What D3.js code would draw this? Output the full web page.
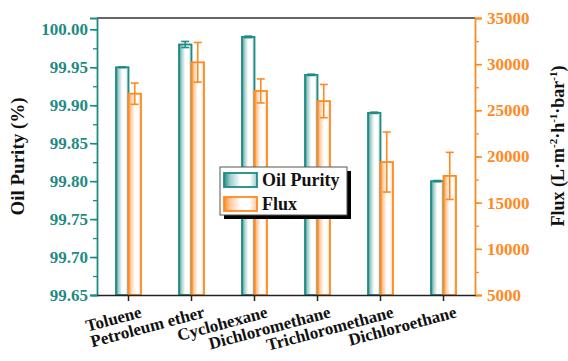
<!DOCTYPE html>
<html>
<head>
<meta charset="utf-8">
<script src="https://cdn.jsdelivr.net/npm/d3@7"></script>
<style>
  html, body { margin: 0; padding: 0; background: #fff; }
  svg { display: block; font-family: "Liberation Serif", "Times New Roman", serif; font-weight: bold; }
</style>
</head>
<body>
<svg id="chart" width="568" height="361"></svg>
<script>
// Solvents tested and the measured results
const solvents = ["Toluene", "Petroleum ether", "Cyclohexane", "Dichloromethane", "Trichloromethane", "Dichloroethane"];
const oilPurity = [99.95, 99.98, 99.99, 99.94, 99.89, 99.80];
const oilPurityErr = [0.0005, 0.004, 0.001, 0.0008, 0.0008, 0.0008];
const flux = [26800, 30200, 27100, 26000, 19400, 17900];
const fluxErr = [1150, 2150, 1300, 1800, 3250, 2550];
const purityTicks = [99.65, 99.70, 99.75, 99.80, 99.85, 99.90, 99.95, 100.00];
const fluxTicks = [5000, 10000, 15000, 20000, 25000, 30000, 35000];

const teal = "#1f8b84";
const orange = "#ff8a1f";

const svg = d3.select("#chart");
const margin = { left: 97, right: 93, top: 18, bottom: 66 };
const W = 568, H = 361;
const x0 = margin.left, x1 = W - margin.right, yTop = margin.top, yBot = H - margin.bottom;

const x = d3.scaleBand().domain(solvents).range([x0, x1]);
const yL = d3.scaleLinear().domain([99.65, 100.0149]).range([yBot, yTop]);
const yR = d3.scaleLinear().domain([5000, 35000]).range([yBot, yTop]);

// Horizontal shading used on bars and legend swatches
const defs = svg.append("defs");
function shade(id, c, light) {
  const g = defs.append("linearGradient").attr("id", id)
    .attr("x1", "0%").attr("x2", "100%").attr("y1", "0%").attr("y2", "0%");
  [[0, c], [0.18, light], [0.5, "#ffffff"], [0.78, "#ffffff"], [1, light]].forEach(([o, col]) =>
    g.append("stop").attr("offset", o).attr("stop-color", col));
}
shade("gTeal", teal, "#9ccbc7");
shade("gOrange", orange, "#ffc79a");

const barW = 12.5;

// Oil purity bars
svg.append("g").selectAll("rect").data(solvents).join("rect")
  .attr("x", (d) => x(d) + x.bandwidth() / 2 - barW)
  .attr("y", (d, i) => yL(oilPurity[i]))
  .attr("width", barW)
  .attr("height", (d, i) => yBot - yL(oilPurity[i]))
  .attr("fill", "url(#gTeal)").attr("stroke", teal).attr("stroke-width", 1.8);

// Flux bars
svg.append("g").selectAll("rect").data(solvents).join("rect")
  .attr("x", (d) => x(d) + x.bandwidth() / 2)
  .attr("y", (d, i) => yR(flux[i]))
  .attr("width", barW)
  .attr("height", (d, i) => yBot - yR(flux[i]))
  .attr("fill", "url(#gOrange)").attr("stroke", orange).attr("stroke-width", 1.8);

// Error bars
function errorBars(vals, errs, scale, cx, color) {
  const g = svg.append("g").attr("stroke", color).attr("stroke-width", 1.6);
  solvents.forEach((d, i) => {
    const cxv = cx(d);
    const hi = scale(vals[i] + errs[i]), lo = scale(vals[i] - errs[i]);
    g.append("line").attr("x1", cxv).attr("x2", cxv).attr("y1", hi).attr("y2", lo);
    g.append("line").attr("x1", cxv - 4).attr("x2", cxv + 4).attr("y1", hi).attr("y2", hi);
    g.append("line").attr("x1", cxv - 4).attr("x2", cxv + 4).attr("y1", lo).attr("y2", lo);
  });
}
errorBars(oilPurity, oilPurityErr, yL, (d) => x(d) + x.bandwidth() / 2 - barW / 2, teal);
errorBars(flux, fluxErr, yR, (d) => x(d) + x.bandwidth() / 2 + barW / 2, orange);

// Top frame line
svg.append("line").attr("x1", x0).attr("x2", x1).attr("y1", yTop).attr("y2", yTop)
  .attr("stroke", "#333").attr("stroke-width", 1.6);

// Left axis (oil purity)
const minorL = d3.range(0, 15).map((i) => 99.65 + i * 0.025);
const gl = svg.append("g").attr("transform", `translate(${x0},0)`);
gl.call(d3.axisLeft(yL).tickValues(minorL).tickSize(4).tickFormat(""));
gl.call((g) => g.selectAll(".tick line").attr("stroke", teal).attr("stroke-width", 1.3));
const glM = svg.append("g").attr("transform", `translate(${x0},0)`)
  .call(d3.axisLeft(yL).tickValues(purityTicks).tickSize(7).tickPadding(2).tickFormat(d3.format(".2f")));
glM.select(".domain").attr("stroke", teal).attr("stroke-width", 1.8);
glM.selectAll(".tick line").attr("stroke", teal).attr("stroke-width", 1.6);
glM.selectAll(".tick text").attr("fill", teal).attr("font-size", 17).attr("font-family", "Liberation Serif").attr("font-weight", "bold");
gl.select(".domain").remove();

// Right axis (flux)
const minorR = d3.range(0, 13).map((i) => 5000 + i * 2500);
const gr = svg.append("g").attr("transform", `translate(${x1},0)`);
gr.call(d3.axisRight(yR).tickValues(minorR).tickSize(4).tickFormat(""));
gr.selectAll(".tick line").attr("stroke", orange).attr("stroke-width", 1.3);
gr.select(".domain").remove();
const grM = svg.append("g").attr("transform", `translate(${x1},0)`)
  .call(d3.axisRight(yR).tickValues(fluxTicks).tickSize(7).tickPadding(5).tickFormat(d3.format("d")));
grM.select(".domain").attr("stroke", orange).attr("stroke-width", 1.8);
grM.selectAll(".tick line").attr("stroke", orange).attr("stroke-width", 1.6);
grM.selectAll(".tick text").attr("fill", orange).attr("font-size", 17).attr("font-family", "Liberation Serif").attr("font-weight", "bold");

// Bottom axis
const gb = svg.append("g").attr("transform", `translate(0,${yBot})`)
  .call(d3.axisBottom(x).tickSize(6).tickSizeOuter(0).tickFormat(""));
gb.select(".domain").attr("stroke", "#222").attr("stroke-width", 1.6);
gb.selectAll(".tick line").attr("stroke", "#222").attr("stroke-width", 1.5);

// Rotated category labels
svg.append("g").selectAll("text").data(solvents).join("text")
  .attr("transform", (d) => `translate(${x(d) + x.bandwidth() / 2 + 14},${yBot + 22}) rotate(-15)`)
  .attr("text-anchor", "end")
  .attr("font-size", 17)
  .attr("fill", "#111")
  .text((d) => d);

// Axis titles
svg.append("text")
  .attr("transform", `translate(24,${(yTop + yBot) / 2}) rotate(-90)`)
  .attr("text-anchor", "middle").attr("font-size", 19).attr("fill", "#111")
  .text("Oil Purity (%)");

const rt = svg.append("text")
  .attr("transform", `translate(564,146) rotate(-90)`)
  .attr("text-anchor", "middle").attr("font-size", 18).attr("fill", "#111");
rt.append("tspan").text("Flux (L·m");
rt.append("tspan").attr("font-size", 11).attr("dy", -7).text("-2");
rt.append("tspan").attr("dy", 7).text("·h");
rt.append("tspan").attr("font-size", 11).attr("dy", -7).text("-1");
rt.append("tspan").attr("dy", 7).text("·bar");
rt.append("tspan").attr("font-size", 11).attr("dy", -7).text("-1");
rt.append("tspan").attr("dy", 7).text(")");

// Legend with drop shadow
const lg = svg.append("g").attr("transform", "translate(220,167)");
lg.append("rect").attr("x", 4).attr("y", 4).attr("width", 127).attr("height", 48).attr("fill", "#000");
lg.append("rect").attr("x", 0).attr("y", 0).attr("width", 127).attr("height", 48)
  .attr("fill", "#fff").attr("stroke", "#555").attr("stroke-width", 1);
const items = [["Oil Purity", "url(#gTeal)", teal], ["Flux", "url(#gOrange)", orange]];
items.forEach(([label, fill, stroke], i) => {
  lg.append("rect").attr("x", 4).attr("y", 6 + i * 24).attr("width", 33).attr("height", 14)
    .attr("fill", fill).attr("stroke", stroke).attr("stroke-width", 1.8);
  lg.append("text").attr("x", 42).attr("y", 19 + i * 24).attr("font-size", 18).attr("fill", "#111").text(label);
});
</script>
</body>
</html>
